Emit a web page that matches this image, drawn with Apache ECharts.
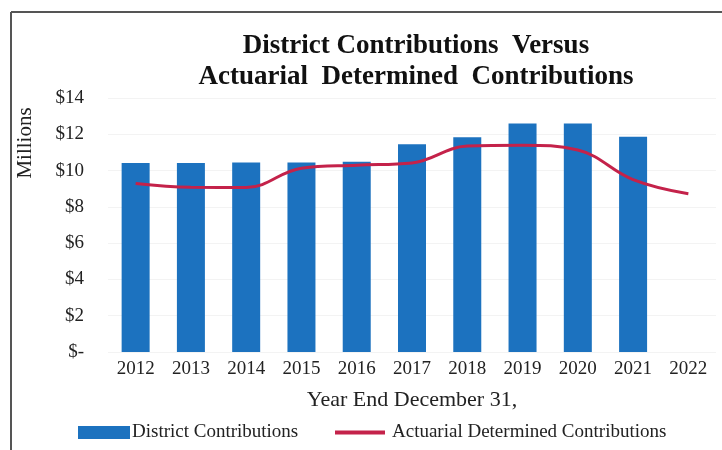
<!DOCTYPE html>
<html>
<head>
<meta charset="utf-8">
<script src="https://cdn.jsdelivr.net/npm/echarts@6/dist/echarts.min.js"></script>
<style>html,body{margin:0;padding:0;background:#fff;}#c{width:722px;height:450px;}</style>
</head>
<body>
<div id="c"></div>
<script>
var categories = ['2012','2013','2014','2015','2016','2017','2018','2019','2020','2021','2022'];
var districtContributions = [10.42, 10.42, 10.45, 10.45, 10.48, 11.45, 11.83, 12.6, 12.6, 11.87, null];
var actuarialContributions = [9.29, 9.08, 9.07, 10.13, 10.3, 10.42, 11.35, 11.4, 11.13, 9.5, 8.72];
var yTicks = [0, 2, 4, 6, 8, 10, 12, 14];

var serif = '"Liberation Serif", "Times New Roman", serif';
var chart = echarts.init(document.getElementById('c'), null, {renderer: 'canvas'});
chart.setOption({
  animation: false,
  backgroundColor: '#ffffff',
  title: {
    text: 'District Contributions  Versus\nActuarial  Determined  Contributions',
    left: 411, top: 26, textAlign: 'center',
    textStyle: {fontFamily: serif, fontWeight: 'bold', fontSize: 27, color: '#111', lineHeight: 31}
  },
  graphic: [
    {type: 'line', shape: {x1: 11, y1: 12, x2: 722, y2: 12}, style: {stroke: '#555', lineWidth: 2}},
    {type: 'line', shape: {x1: 11, y1: 12, x2: 11, y2: 450}, style: {stroke: '#555', lineWidth: 2}}
  ],
  legend: [
    {
      left: 78, top: 423, padding: 0, itemWidth: 52, itemHeight: 13, itemGap: 0,
      textStyle: {fontFamily: serif, fontSize: 19, color: '#222', padding: [0, 0, 0, -3]},
      data: [{name: 'District Contributions', icon: 'rect'}]
    },
    {
      left: 335, top: 423, padding: 0, itemWidth: 50, itemHeight: 4, itemGap: 0,
      textStyle: {fontFamily: serif, fontSize: 19, color: '#222', padding: [0, 0, 0, 2]},
      data: [{name: 'Actuarial Determined Contributions', icon: 'rect'}]
    }
  ],
  grid: {left: 108, right: 6, top: 98, bottom: 98, containLabel: false},
  xAxis: {
    type: 'category', data: categories,
    name: 'Year End December 31,', nameLocation: 'middle', nameGap: 37,
    nameTextStyle: {fontFamily: serif, fontSize: 22, color: '#222'},
    axisLine: {show: false}, axisTick: {show: false},
    axisLabel: {fontFamily: serif, fontSize: 19, color: '#222', margin: 8}
  },
  yAxis: {
    type: 'value', min: 0, max: 14, interval: 2,
    name: 'Millions', nameLocation: 'middle', nameRotate: 90, nameGap: 72,
    nameTextStyle: {fontFamily: serif, fontSize: 21, color: '#222', padding: [0, 0, 0, 164]},
    axisLine: {show: false}, axisTick: {show: false},
    splitLine: {show: true, lineStyle: {color: '#f3f3f3'}},
    axisLabel: {
      fontFamily: serif, fontSize: 19, color: '#222', margin: 24,
      formatter: function (v) { return yTicks.indexOf(v) >= 0 ? (v === 0 ? '$-' : '$' + v) : ''; }
    }
  },
  series: [
    {
      name: 'District Contributions', type: 'bar', data: districtContributions,
      barWidth: 28, itemStyle: {color: '#1c72bf'}
    },
    {
      name: 'Actuarial Determined Contributions', type: 'line', data: actuarialContributions,
      smooth: 0.4, symbol: 'none', lineStyle: {color: '#c4224a', width: 3}, itemStyle: {color: '#c4224a'}
    }
  ]
});
</script>
</body>
</html>
